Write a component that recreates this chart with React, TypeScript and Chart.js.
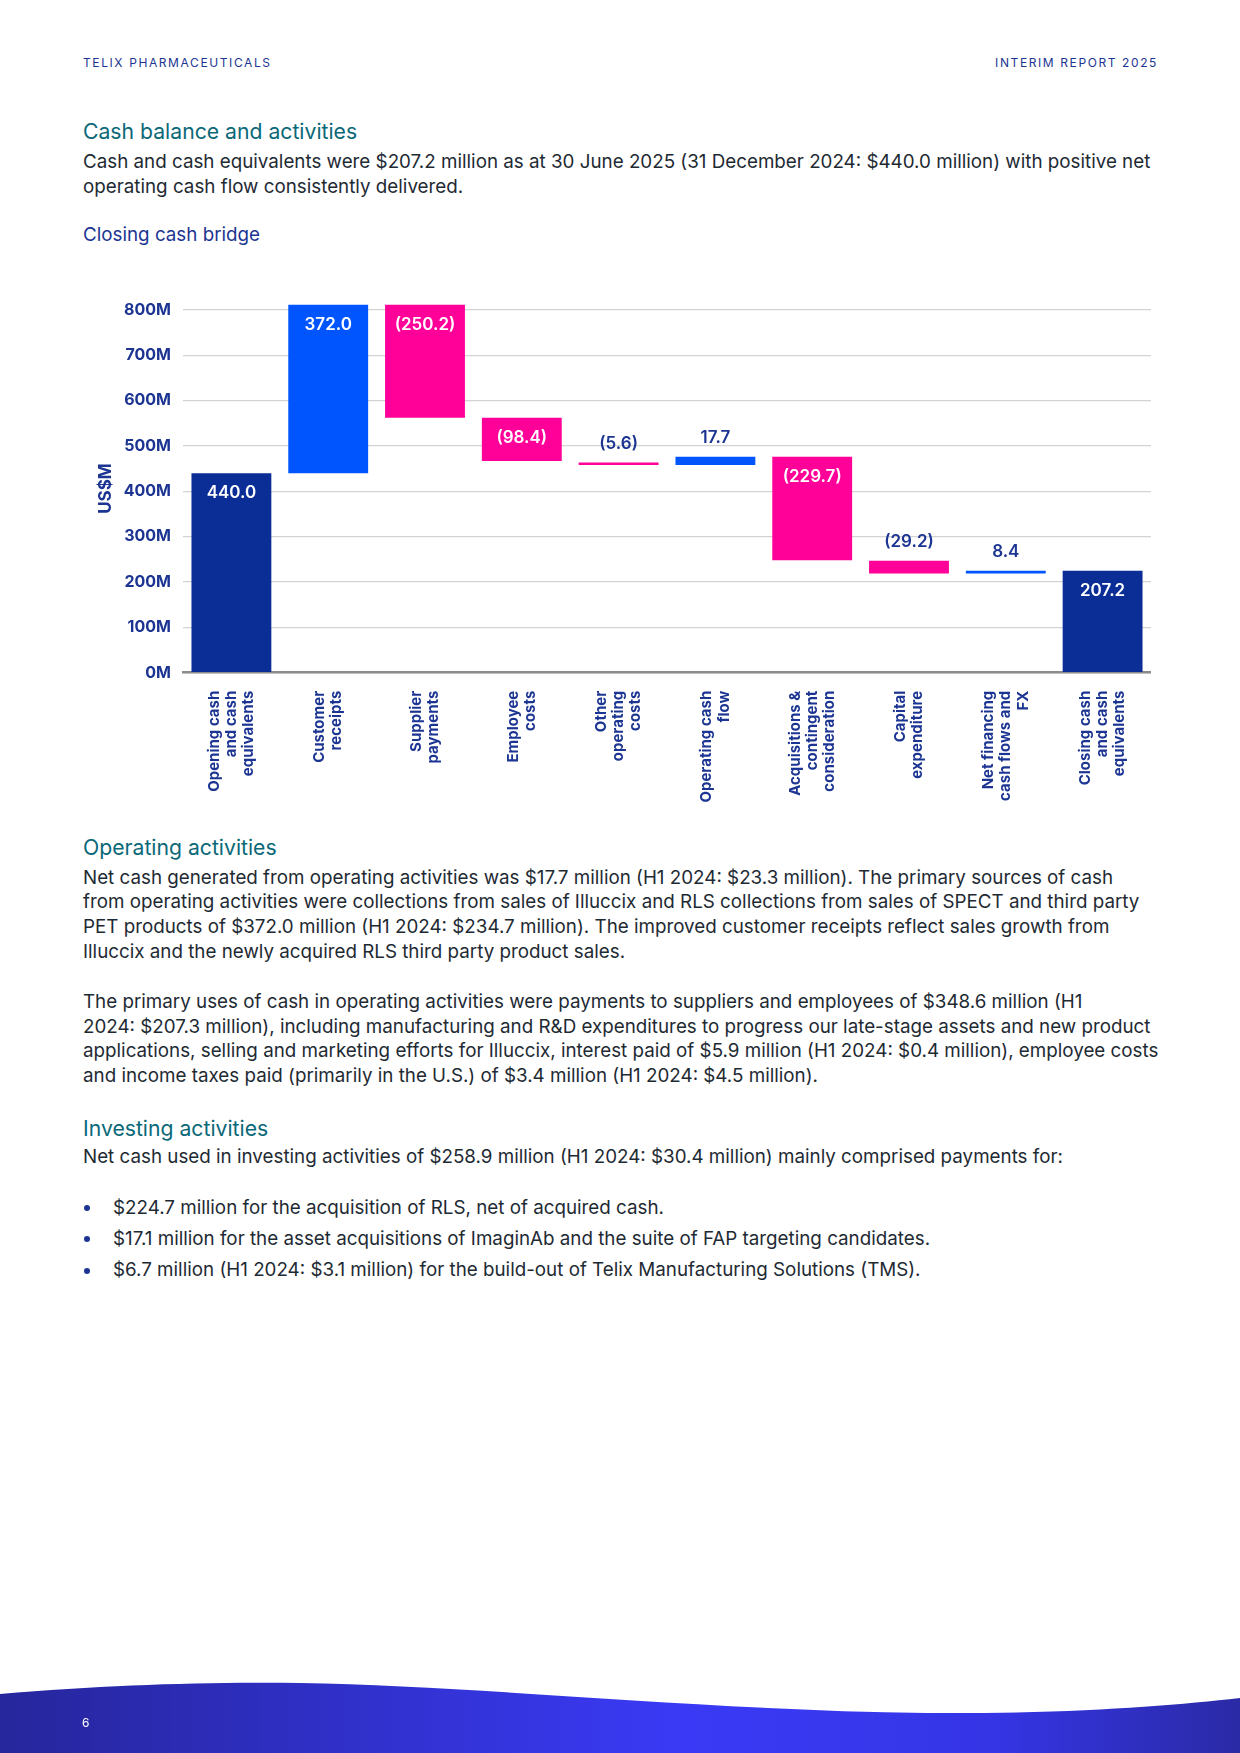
import React, { useEffect, useRef } from 'react';
import Chart from 'chart.js/auto';

const categories: string[][] = [
  ['Opening cash', 'and cash', 'equivalents'],
  ['Customer', 'receipts'],
  ['Supplier', 'payments'],
  ['Employee', 'costs'],
  ['Other', 'operating', 'costs'],
  ['Operating cash', 'flow'],
  ['Acquisitions &', 'contingent', 'consideration'],
  ['Capital', 'expenditure'],
  ['Net financing', 'cash flows and', 'FX'],
  ['Closing cash', 'and cash', 'equivalents'],
];
const barStarts = [0, 440, 812, 562, 463.4, 458, 476, 247, 219, 0];
const barEnds = [440, 812, 562, 467, 457.8, 476, 248, 219, 225, 225];
const barKinds = ['total', 'step', 'step', 'step', 'step', 'step', 'step', 'step', 'step', 'total'];
const valueLabels = ['440.0', '372.0', '(250.2)', '(98.4)', '(5.6)', '17.7', '(229.7)', '(29.2)', '8.4', '207.2'];
const yTicks = [0, 100, 200, 300, 400, 500, 600, 700, 800];

const NAVY = '#0a2e95';
const BLUE = '#0055ff';
const PINK = '#ff0099';
const TEXT_NAVY = '#1c3592';
const FONT = 'Inter, "Noto Sans", sans-serif';

const labelPlugin = {
  id: 'waterfallLabels',
  afterDatasetsDraw(chart: any) {
    const ctx = chart.ctx;
    const meta = chart.getDatasetMeta(0);
    ctx.save();
    ctx.font = `600 17px ${FONT}`;
    ctx.textAlign = 'center';
    ctx.textBaseline = 'middle';
    meta.data.forEach((el: any, i: number) => {
      const { x, y, base } = el.getProps(['x', 'y', 'base'], true);
      const top = Math.min(y, base);
      const h = Math.abs(base - y);
      if (h > 30) {
        ctx.fillStyle = '#ffffff';
        ctx.fillText(valueLabels[i], x, top + 20);
      } else {
        ctx.fillStyle = TEXT_NAVY;
        ctx.fillText(valueLabels[i], x, top - 18.5);
      }
    });
    ctx.restore();
  },
  afterDraw(chart: any) {
    const ctx = chart.ctx;
    const xs = chart.scales.x;
    const bottom = chart.chartArea.bottom;
    const lh = 17.2;
    ctx.save();
    ctx.font = `bold 15px ${FONT}`;
    ctx.fillStyle = TEXT_NAVY;
    ctx.textAlign = 'right';
    ctx.textBaseline = 'middle';
    categories.forEach((lines, i) => {
      const cx = xs.getPixelForValue(i);
      lines.forEach((line, j) => {
        const off = (j - (lines.length - 1) / 2) * lh;
        ctx.save();
        ctx.translate(cx + off, bottom + 18);
        ctx.rotate(-Math.PI / 2);
        ctx.fillText(line, 0, 0);
        ctx.restore();
      });
    });
    ctx.restore();
  },
};

function CashBridge() {
  const ref = useRef<HTMLCanvasElement | null>(null);
  useEffect(() => {
    if (!ref.current) return;
    const colors = barKinds.map((k, i) =>
      k === 'total' ? NAVY : barEnds[i] >= barStarts[i] ? BLUE : PINK
    );
    const chart = new Chart(ref.current, {
      type: 'bar',
      data: {
        labels: categories.map((c) => c.join(' ')),
        datasets: [
          {
            data: barStarts.map((s, i) => [s, barEnds[i]]) as any,
            backgroundColor: colors,
            borderWidth: 0,
            borderSkipped: false,
            barPercentage: 0.825,
            categoryPercentage: 1,
          },
        ],
      },
      options: {
        animation: false,
        responsive: true,
        maintainAspectRatio: false,
        layout: { padding: { top: 14.5, right: 0, bottom: 0, left: 0 } },
        plugins: { legend: { display: false }, tooltip: { enabled: false } },
        scales: {
          x: {
            grid: { display: false, drawTicks: false },
            border: { display: true, color: '#8c8c8c', width: 2.5 },
            ticks: { display: false },
            afterFit: (s: any) => {
              s.height = 137.3;
              s.paddingLeft = 0;
              s.paddingRight = 0;
            },
          },
          y: {
            min: 0,
            max: 812,
            grid: { color: '#d3d3d3', lineWidth: 1.2, drawTicks: false },
            border: { display: false },
            afterBuildTicks: (s: any) => {
              s.ticks = yTicks.map((v) => ({ value: v }));
            },
            ticks: {
              padding: 12,
              color: TEXT_NAVY,
              font: { family: FONT, size: 16, weight: 'bold' },
              callback: (v: any) => `${v}M`,
            },
            title: {
              display: true,
              text: 'US$M',
              color: TEXT_NAVY,
              font: { family: FONT, size: 17, weight: 'bold' },
              padding: { top: 6, bottom: 0 },
            },
            afterFit: (s: any) => {
              s.width = 93;
              s.paddingTop = 0;
              s.paddingBottom = 0;
            },
          },
        },
      },
      plugins: [labelPlugin],
    });
    return () => chart.destroy();
  }, []);
  return (
    <div style={{ position: 'absolute', left: 90, top: 290, width: 1061, height: 520 }}>
      <canvas ref={ref} />
    </div>
  );
}

const body: React.CSSProperties = {
  position: 'absolute',
  left: 83,
  fontSize: 18.8,
  lineHeight: '24.6px',
  color: '#1e2a33',
  whiteSpace: 'nowrap',
  fontFamily: FONT,
};
const heading: React.CSSProperties = {
  position: 'absolute',
  left: 83,
  fontSize: 21.2,
  lineHeight: '26px',
  color: '#0a6878',
  whiteSpace: 'nowrap',
  fontFamily: FONT,
};

function Line({ y, children, style }: { y: number; children: React.ReactNode; style?: React.CSSProperties }) {
  return <div style={{ ...body, top: y - 12.3, ...style }}>{children}</div>;
}

export default function App() {
  useEffect(() => {
    document.body.style.margin = '0';
  }, []);
  const bullets = [
    { y: 1208, t: '$224.7 million for the acquisition of RLS, net of acquired cash.' },
    { y: 1239.4, t: '$17.1 million for the asset acquisitions of ImaginAb and the suite of FAP targeting candidates.' },
    { y: 1270.7, t: '$6.7 million (H1 2024: $3.1 million) for the build-out of Telix Manufacturing Solutions (TMS).' },
  ];
  return (
    <div style={{ position: 'relative', width: 1240, height: 1753, background: '#fff', overflow: 'hidden', fontFamily: FONT }}>
      <div style={{ position: 'absolute', left: 83, top: 55, fontSize: 12, letterSpacing: 1.6, color: TEXT_NAVY, lineHeight: '16px' }}>
        TELIX PHARMACEUTICALS
      </div>
      <div style={{ position: 'absolute', right: 82, top: 55, fontSize: 12, letterSpacing: 1.6, color: TEXT_NAVY, lineHeight: '16px' }}>
        INTERIM REPORT 2025
      </div>

      <div style={{ ...heading, top: 131 - 13 }}>Cash balance and activities</div>
      <Line y={162.2}>
        Cash and cash equivalents were $207.2 million as at 30 June 2025 (31 December 2024: $440.0 million) with positive net
      </Line>
      <Line y={186.8}>operating cash flow consistently delivered.</Line>

      <div style={{ ...heading, top: 235 - 13, fontSize: 18.8, color: '#1c3592' }}>Closing cash bridge</div>

      <CashBridge />

      <div style={{ ...heading, top: 846.7 - 13 }}>Operating activities</div>
      <Line y={878.1}>
        Net cash generated from operating activities was $17.7 million (H1 2024: $23.3 million). The primary sources of cash
      </Line>
      <Line y={902.7}>
        from operating activities were collections from sales of Illuccix and RLS collections from sales of SPECT and third party
      </Line>
      <Line y={927.3}>
        PET products of $372.0 million (H1 2024: $234.7 million). The improved customer receipts reflect sales growth from
      </Line>
      <Line y={951.9}>Illuccix and the newly acquired RLS third party product sales.</Line>

      <Line y={1002.2}>
        The primary uses of cash in operating activities were payments to suppliers and employees of $348.6 million (H1
      </Line>
      <Line y={1026.8}>
        2024: $207.3 million), including manufacturing and R&amp;D expenditures to progress our late-stage assets and new product
      </Line>
      <Line y={1051.4}>
        applications, selling and marketing efforts for Illuccix, interest paid of $5.9 million (H1 2024: $0.4 million), employee costs
      </Line>
      <Line y={1076.1}>and income taxes paid (primarily in the U.S.) of $3.4 million (H1 2024: $4.5 million).</Line>

      <div style={{ ...heading, top: 1127.5 - 13 }}>Investing activities</div>
      <Line y={1157.7}>
        Net cash used in investing activities of $258.9 million (H1 2024: $30.4 million) mainly comprised payments for:
      </Line>
      {bullets.map((b, i) => (
        <React.Fragment key={i}>
          <div
            style={{
              position: 'absolute',
              left: 84,
              top: b.y - 3,
              width: 6,
              height: 6,
              borderRadius: 3,
              background: '#1c3592',
            }}
          />
          <Line y={b.y} style={{ left: 113 }}>
            {b.t}
          </Line>
        </React.Fragment>
      ))}

      <svg
        width={1240}
        height={1753}
        style={{ position: 'absolute', left: 0, top: 0, pointerEvents: 'none' }}
      >
        <defs>
          <linearGradient id="wave" x1="0" y1="0" x2="1" y2="0">
            <stop offset="0" stopColor="#26269c" />
            <stop offset="0.55" stopColor="#3a3af6" />
            <stop offset="0.8" stopColor="#3535e6" />
            <stop offset="1" stopColor="#2a2aa6" />
          </linearGradient>
        </defs>
        <path
          d="M0,1694 C110,1685 200,1682 300,1683 C480,1686 700,1710 926,1713 C1070,1714 1170,1706 1240,1698 L1240,1753 L0,1753 Z"
          fill="url(#wave)"
        />
        <text x={82} y={1727} fill="#ffffff" fontSize={12} fontFamily="Inter, sans-serif">
          6
        </text>
      </svg>
    </div>
  );
}
